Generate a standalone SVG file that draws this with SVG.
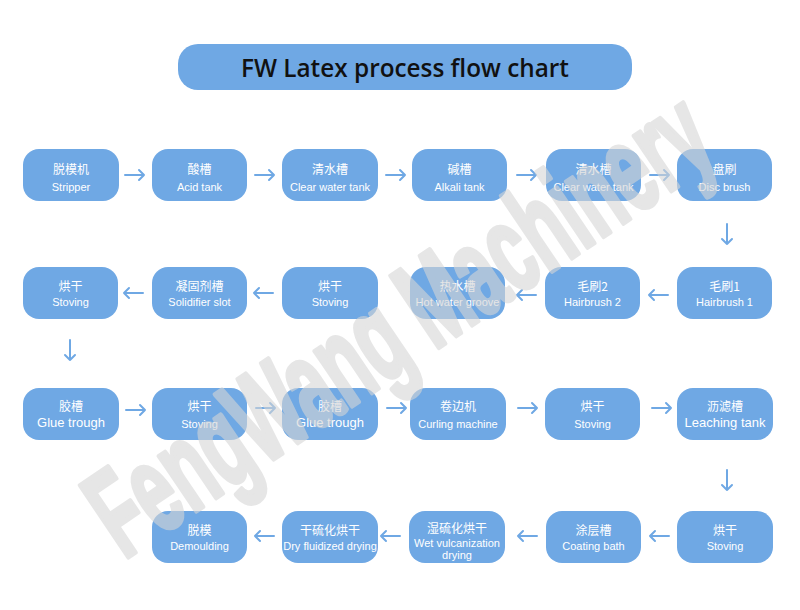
<svg xmlns="http://www.w3.org/2000/svg" width="800" height="610" viewBox="0 0 800 610">
<defs>
<style>
.bg{fill:#ffffff}
.box{fill:#6fa8e4}
.cn{font-family:"Noto Sans CJK SC","Noto Sans",sans-serif;font-size:12px;fill:#ffffff;text-anchor:middle}
.en{font-family:"Liberation Sans","Noto Sans",sans-serif;font-size:11px;fill:#ffffff;text-anchor:middle}
.enl{font-family:"Liberation Sans","Noto Sans",sans-serif;font-size:13px;fill:#ffffff;text-anchor:middle}
.title{font-family:"Open Sans","Noto Sans",sans-serif;font-size:25px;font-weight:600;fill:#111111;text-anchor:middle}
.arr{fill:none;stroke:#6fa8e4;stroke-width:2;stroke-linecap:round;stroke-linejoin:round}
.wm{font-family:"Liberation Sans",Arial,sans-serif;font-size:125px;font-weight:bold;fill:#d6d6d6;stroke:#d6d6d6;stroke-width:5;stroke-linejoin:round;opacity:0.6;text-anchor:middle}
</style>
</defs>
<rect class="bg" x="0" y="0" width="800" height="610"/>
<g id="title">
<rect class="box" x="178" y="44" width="454" height="46" rx="20"/>
<text class="title" x="405" y="77" textLength="328" lengthAdjust="spacingAndGlyphs">FW Latex process flow chart</text>
</g>
<g id="connectors">
<path class="arr" d="M125,175 H144 M139,170 L144,175 L139,180"/>
<path class="arr" d="M255,175 H274 M269,170 L274,175 L269,180"/>
<path class="arr" d="M386,175 H405 M400,170 L405,175 L400,180"/>
<path class="arr" d="M517,175 H536 M531,170 L536,175 L531,180"/>
<path class="arr" d="M650,175 H669 M664,170 L669,175 L664,180"/>
<path class="arr" d="M727,224 V244 M722,239 L727,244 L732,239"/>
<path class="arr" d="M668,295 H649 M654,290 L649,295 L654,300"/>
<path class="arr" d="M536,295 H517 M522,290 L517,295 L522,300"/>
<path class="arr" d="M273,293 H254 M259,288 L254,293 L259,298"/>
<path class="arr" d="M143,293 H124 M129,288 L124,293 L129,298"/>
<path class="arr" d="M70,340 V360 M65,355 L70,360 L75,355"/>
<path class="arr" d="M126,410 H145 M140,405 L145,410 L140,415"/>
<path class="arr" d="M256,408 H275 M270,403 L275,408 L270,413"/>
<path class="arr" d="M387,408 H406 M401,403 L406,408 L401,413"/>
<path class="arr" d="M518,408 H537 M532,403 L537,408 L532,413"/>
<path class="arr" d="M652,408 H671 M666,403 L671,408 L666,413"/>
<path class="arr" d="M727,470 V490 M722,485 L727,490 L732,485"/>
<path class="arr" d="M669,536 H650 M655,531 L650,536 L655,541"/>
<path class="arr" d="M537,536 H518 M523,531 L518,536 L523,541"/>
<path class="arr" d="M400,536 H381 M386,531 L381,536 L386,541"/>
<path class="arr" d="M274,536 H255 M260,531 L255,536 L260,541"/>
</g>
<g id="n1"><rect class="box" x="23" y="149" width="96" height="52" rx="16"/><text class="cn" x="71" y="174">脱模机</text><text class="en" x="71" y="191">Stripper</text></g>
<g id="n2"><rect class="box" x="152" y="149" width="95" height="52" rx="16"/><text class="cn" x="199.5" y="174">酸槽</text><text class="en" x="199.5" y="191">Acid tank</text></g>
<g id="n3"><rect class="box" x="282" y="149" width="96" height="52" rx="16"/><text class="cn" x="330" y="174">清水槽</text><text class="en" x="330" y="191">Clear water tank</text></g>
<g id="n4"><rect class="box" x="412" y="149" width="95" height="52" rx="16"/><text class="cn" x="459.5" y="174">碱槽</text><text class="en" x="459.5" y="191">Alkali tank</text></g>
<g id="n5"><rect class="box" x="546" y="149" width="95" height="52" rx="16"/><text class="cn" x="593.5" y="174">清水槽</text><text class="en" x="593.5" y="191">Clear water tank</text></g>
<g id="n6"><rect class="box" x="677" y="149" width="95" height="52" rx="16"/><text class="cn" x="724.5" y="174">盘刷</text><text class="en" x="724.5" y="191">Disc brush</text></g>
<g id="n7"><rect class="box" x="677" y="267" width="95" height="52" rx="16"/><text class="cn" x="724.5" y="291">毛刷1</text><text class="en" x="724.5" y="306">Hairbrush 1</text></g>
<g id="n8"><rect class="box" x="545" y="267" width="95" height="52" rx="16"/><text class="cn" x="592.5" y="291">毛刷2</text><text class="en" x="592.5" y="306">Hairbrush 2</text></g>
<g id="n9"><rect class="box" x="410" y="267" width="95" height="52" rx="16"/><text class="cn" x="457.5" y="291">热水槽</text><text class="en" x="457.5" y="306">Hot water groove</text></g>
<g id="n10"><rect class="box" x="282" y="267" width="96" height="52" rx="16"/><text class="cn" x="330" y="291">烘干</text><text class="en" x="330" y="306">Stoving</text></g>
<g id="n11"><rect class="box" x="152" y="267" width="95" height="52" rx="16"/><text class="cn" x="199.5" y="291">凝固剂槽</text><text class="en" x="199.5" y="306">Solidifier slot</text></g>
<g id="n12"><rect class="box" x="23" y="267" width="95" height="52" rx="16"/><text class="cn" x="70.5" y="291">烘干</text><text class="en" x="70.5" y="306">Stoving</text></g>
<g id="n13"><rect class="box" x="23" y="388" width="96" height="52" rx="16"/><text class="cn" x="71" y="411">胶槽</text><text class="enl" x="71" y="427">Glue trough</text></g>
<g id="n14"><rect class="box" x="152" y="388" width="95" height="52" rx="16"/><text class="cn" x="199.5" y="411">烘干</text><text class="en" x="199.5" y="428">Stoving</text></g>
<g id="n15"><rect class="box" x="282" y="388" width="96" height="52" rx="16"/><text class="cn" x="330" y="411">胶槽</text><text class="enl" x="330" y="427">Glue trough</text></g>
<g id="n16"><rect class="box" x="410" y="388" width="96" height="52" rx="16"/><text class="cn" x="458" y="411">卷边机</text><text class="en" x="458" y="428">Curling machine</text></g>
<g id="n17"><rect class="box" x="545" y="388" width="95" height="52" rx="16"/><text class="cn" x="592.5" y="411">烘干</text><text class="en" x="592.5" y="428">Stoving</text></g>
<g id="n18"><rect class="box" x="677" y="388" width="96" height="52" rx="16"/><text class="cn" x="725" y="411">沥滤槽</text><text class="enl" x="725" y="427">Leaching tank</text></g>
<g id="n19"><rect class="box" x="677" y="511" width="96" height="52" rx="16"/><text class="cn" x="725" y="535">烘干</text><text class="en" x="725" y="550">Stoving</text></g>
<g id="n20"><rect class="box" x="546" y="511" width="95" height="52" rx="16"/><text class="cn" x="593.5" y="535">涂层槽</text><text class="en" x="593.5" y="550">Coating bath</text></g>
<g id="n21"><rect class="box" x="409" y="511" width="96" height="52" rx="16"/><text class="cn" x="457" y="533">湿硫化烘干</text><text class="en" x="457" y="547">Wet vulcanization</text><text class="en" x="457" y="559">drying</text></g>
<g id="n22"><rect class="box" x="282" y="511" width="96" height="52" rx="16"/><text class="cn" x="330" y="535">干硫化烘干</text><text class="en" x="330" y="550">Dry fluidized drying</text></g>
<g id="n23"><rect class="box" x="152" y="511" width="95" height="52" rx="16"/><text class="cn" x="199.5" y="535">脱模</text><text class="en" x="199.5" y="550">Demoulding</text></g>
<g id="watermark">
<text class="wm" transform="translate(398,322) rotate(-34) scale(0.56,1)" x="0" y="44">FengWang Machinery</text>
</g>
</svg>
